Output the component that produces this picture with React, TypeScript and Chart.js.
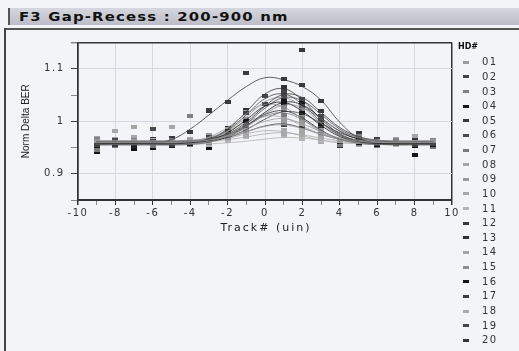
import { useEffect, useRef } from 'react';
import { Chart, registerables } from 'chart.js';

Chart.register(...registerables);

const chartTitle = 'F3 Gap-Recess : 200-900 nm';
const xTitle = 'Track# (uin)';
const yTitle = 'Norm Delta BER';
const legendTitle = 'HD#';

// track offsets (uin)
const trackPositions = [-9, -8, -7, -6, -5, -4, -3, -2, -1, 0, 1, 2, 3, 4, 5, 6, 7, 8, 9];

const headLabels = ['01', '02', '03', '04', '05', '06', '07', '08', '09', '10',
  '11', '12', '13', '14', '15', '16', '17', '18', '19', '20'];

const headColors = ['#9a9a9a', '#444444', '#808080', '#161616', '#3a3a3a', '#4a4a4a', '#7a7a7a',
  '#a6a6a6', '#989898', '#a8a8a8', '#b4b4b4', '#383838', '#303030', '#a4a4a4', '#8c8c8c',
  '#141414', '#3c3c3c', '#aaaaaa', '#444444', '#353535'];

// smoothed profile per head
const fit01 = [.960, .960, .960, .960, .960, .961, .964, .972, .986, 1.000, 1.005, .995, .980, .968, .962, .960, .960, .960, .960];
const fit02 = [.958, .958, .958, .958, .958, .960, .966, .983, 1.012, 1.043, 1.052, 1.032, .999, .974, .963, .959, .958, .958, .958];
const fit03 = [.962, .962, .962, .962, .962, .963, .965, .973, .990, 1.014, 1.031, 1.026, 1.005, .982, .969, .964, .962, .962, .962];
const fit04 = [.957, .957, .957, .957, .957, .959, .964, .978, 1.003, 1.029, 1.036, 1.019, .992, .971, .961, .958, .957, .957, .957];
const fit05 = [.957, .958, .958, .959, .965, .985, 1.012, 1.040, 1.066, 1.083, 1.079, 1.066, 1.040, .998, .968, .958, .957, .957, .957];
const fit06 = [.961, .961, .961, .961, .961, .962, .965, .974, .995, 1.025, 1.045, 1.039, 1.013, .985, .969, .963, .961, .961, .961];
const fit07 = [.956, .956, .956, .956, .956, .957, .961, .972, .990, 1.010, 1.016, 1.003, .982, .966, .959, .957, .956, .956, .956];
const fit08 = [.963, .963, .963, .963, .963, .964, .966, .971, .980, .990, .993, .986, .976, .968, .964, .963, .963, .963, .963];
const fit09 = [.958, .958, .958, .958, .959, .961, .970, .988, 1.014, 1.032, 1.027, 1.004, .979, .965, .960, .958, .958, .958, .958];
const fit10 = [.960, .960, .960, .960, .960, .960, .961, .965, .970, .976, .978, .974, .968, .963, .961, .960, .960, .960, .960];
const fit11 = [.957, .957, .957, .957, .957, .957, .957, .959, .962, .966, .969, .968, .964, .960, .958, .957, .957, .957, .957];
const fit12 = [.962, .962, .962, .962, .962, .963, .966, .976, .998, 1.029, 1.051, 1.045, 1.017, .988, .971, .964, .962, .962, .962];
const fit13 = [.955, .955, .955, .955, .955, .956, .960, .972, .992, 1.013, 1.020, 1.006, .983, .966, .958, .956, .955, .955, .955];
const fit14 = [.961, .961, .961, .961, .961, .963, .969, .981, .998, 1.010, 1.007, .991, .975, .966, .962, .961, .961, .961, .961];
const fit15 = [.958, .958, .958, .958, .958, .960, .965, .981, 1.008, 1.037, 1.045, 1.027, .996, .973, .962, .959, .958, .958, .958];
const fit16 = [.959, .959, .959, .959, .959, .960, .962, .971, .990, 1.017, 1.036, 1.031, 1.006, .981, .966, .961, .959, .959, .959];
const fit17 = [.960, .960, .960, .960, .960, .961, .963, .969, .980, .991, .995, .987, .975, .966, .962, .960, .960, .960, .960];
const fit18 = [.957, .957, .957, .957, .957, .958, .961, .967, .976, .982, .980, .972, .964, .959, .958, .957, .957, .957, .957];
const fit19 = [.961, .961, .961, .961, .961, .961, .963, .970, .984, 1.004, 1.018, 1.014, .996, .978, .967, .962, .961, .961, .961];
const fit20 = [.958, .958, .958, .958, .958, .960, .967, .985, 1.018, 1.052, 1.062, 1.040, 1.004, .976, .963, .959, .958, .958, .958];

// measured points per head (null = not measured)
const pts01 = [.963, .958, .962, .957, .961, .964, .961, .975, .983, null, 1.001, .998, .984, null, .960, .962, .958, .961, .963];
const pts02 = [.955, .961, .956, .962, .955, .958, .970, .980, 1.016, 1.048, 1.057, 1.029, 1.003, null, .966, .957, .960, .955, .957];
const pts03 = [.966, .960, .965, .958, .964, 1.010, .968, .970, .993, null, 1.028, 1.030, 1.001, .963, .972, .962, .965, .960, .964];
const pts04 = [.952, .960, .954, .958, .953, .957, .961, .982, 1.000, null, 1.040, 1.015, .995, .960, .958, .955, .959, .953, .955];
const pts05 = [.960, .955, .961, .957, .968, .980, 1.022, 1.036, 1.092, null, 1.081, 1.070, 1.038, null, .978, .956, .958, .955, .959];
const pts06 = [.958, .964, .959, .985, .960, .965, .962, .977, .991, null, 1.049, 1.042, 1.010, null, .967, .965, .963, .959, .962];
const pts07 = [.945, .953, .958, .952, .957, .955, .958, .969, .994, null, 1.012, 1.006, .980, .955, .957, .953, .957, .954, .951];
const pts08 = [.968, .982, .970, .961, .990, .967, .964, .974, .977, null, .996, .983, .979, null, .966, .961, .966, .972, .962];
const pts09 = [.961, .956, .960, .955, .962, .958, .973, .985, 1.018, null, 1.024, 1.008, .976, null, .962, .956, .960, .957, .956];
const pts10 = [.957, .963, .961, .964, .958, .962, .958, .967, .972, null, .975, .977, .966, null, .963, .958, .962, .961, .958];
const pts11 = [.954, .959, .955, .960, .956, .959, .955, .962, .970, null, .972, .966, .962, .958, .956, .959, .955, .958, .956];
const pts12 = [.965, .959, .963, .967, .960, .966, 1.020, .979, .995, 1.032, 1.054, 1.135, 1.020, null, .974, .966, .960, .964, .960];
const pts13 = [.950, .957, .952, .958, .953, .957, .957, .975, .989, null, 1.023, 1.003, .986, .952, .960, .953, .957, .952, .954];
const pts14 = [.963, .967, .990, .963, .966, .960, .972, .979, 1.001, null, 1.004, .994, .972, null, .964, .959, .963, .962, .965];
const pts15 = [.959, .962, .956, .961, .959, .956, .968, .984, 1.005, null, 1.048, 1.024, .999, null, .960, .961, .956, .960, .958];
const pts16 = [.942, .953, .948, .950, .955, .962, .950, .968, .993, null, 1.033, 1.034, 1.003, .957, .964, .960, .961, .936, .957];
const pts17 = [.962, .957, .963, .958, .962, .959, .966, .966, .983, null, .992, .990, .972, null, .959, .962, .958, .963, .961];
const pts18 = [.960, .955, .958, .954, .958, .956, .964, .964, .974, null, .983, .970, .961, null, .955, .958, .956, .954, .959];
const pts19 = [.964, .960, .962, .959, .963, .964, .960, .973, .981, null, 1.021, 1.011, .993, null, .969, .960, .963, .962, .960];
const pts20 = [.956, .960, .957, .961, .957, .962, .970, .988, 1.021, null, 1.065, 1.043, 1.001, null, .966, .957, .960, .958, .956];

const fitCurves = [fit01, fit02, fit03, fit04, fit05, fit06, fit07, fit08, fit09, fit10,
  fit11, fit12, fit13, fit14, fit15, fit16, fit17, fit18, fit19, fit20];
const measured = [pts01, pts02, pts03, pts04, pts05, pts06, pts07, pts08, pts09, pts10,
  pts11, pts12, pts13, pts14, pts15, pts16, pts17, pts18, pts19, pts20];

const yLabels: Record<number, string> = { 90: '0.9', 100: '1', 110: '1.1' };

function dashMarker(color: string): HTMLCanvasElement {
  const c = document.createElement('canvas');
  c.width = 6;
  c.height = 4;
  const g = c.getContext('2d')!;
  g.fillStyle = color;
  g.fillRect(0, 0, 6, 4);
  return c;
}

const textSpacing = {
  id: 'textSpacing',
  beforeLayout(chart: any) { chart.ctx.letterSpacing = '1.5px'; },
  beforeDraw(chart: any) { chart.ctx.letterSpacing = '1.5px'; },
};

const axisTitles = {
  id: 'axisTitles',
  afterDraw(chart: any) {
    const { ctx, chartArea } = chart;
    ctx.save();
    ctx.fillStyle = '#222';
    ctx.textAlign = 'center';
    ctx.textBaseline = 'middle';
    ctx.letterSpacing = '2px';
    ctx.font = '11px "DejaVu Sans"';
    ctx.fillText(xTitle, (chartArea.left + chartArea.right) / 2 + 1, chartArea.bottom + 28.3);
    ctx.letterSpacing = '0px';
    ctx.font = '10px "Liberation Sans"';
    ctx.translate(20, (chartArea.top + chartArea.bottom) / 2);
    ctx.rotate(-Math.PI / 2);
    ctx.fillText(yTitle, 0, 0);
    ctx.restore();
  },
};

export default function App() {
  const canvasRef = useRef<HTMLCanvasElement>(null);

  useEffect(() => {
    document.body.style.margin = '0';
    const canvas = canvasRef.current;
    if (!canvas) return;

    const datasets: any[] = [];
    headLabels.forEach((lab, i) => {
      datasets.push({
        label: 'HD' + lab + ' fit',
        data: trackPositions.map((x, j) => ({ x, y: fitCurves[i][j] })),
        showLine: true,
        borderColor: headColors[i],
        borderWidth: 0.8,
        pointRadius: 0,
        tension: 0.4,
        fill: false,
      });
    });
    headLabels.forEach((lab, i) => {
      datasets.push({
        label: 'HD' + lab,
        data: trackPositions.map((x, j) => ({ x, y: measured[i][j] })),
        showLine: false,
        pointStyle: dashMarker(headColors[i]),
        pointRadius: 3,
        pointHoverRadius: 3,
      });
    });

    const chart = new Chart(canvas, {
      type: 'scatter',
      data: { datasets },
      plugins: [textSpacing, axisTitles],
      options: {
        animation: false,
        responsive: true,
        maintainAspectRatio: false,
        layout: { padding: { top: 6, right: 14, left: 0, bottom: 0 } },
        plugins: { legend: { display: false }, tooltip: { enabled: false } },
        scales: {
          x: {
            type: 'linear',
            min: -10,
            max: 10,
            afterFit: (s: any) => { s.height = 42; },
            ticks: {
              stepSize: 1,
              autoSkip: false,
              maxRotation: 0,
              padding: 2.5,
              color: '#333',
              font: { family: 'DejaVu Sans', size: 10 },
              callback: (v: any) => (Math.round(v) % 2 === 0 ? String(Math.round(v)) : ''),
            },
            grid: {
              tickLength: 5,
              color: (c: any) => {
                const v = Math.round(c.tick.value);
                if (Math.abs(v) === 10) return '#333';
                return v % 2 === 0 ? '#d6d7e0' : 'rgba(0,0,0,0)';
              },
              lineWidth: (c: any) => (Math.abs(Math.round(c.tick.value)) === 10 ? 1.5 : 1),
              tickColor: (c: any) => (Math.round(c.tick.value) % 2 === 0 ? '#333' : '#888'),
            },
            border: { color: '#333', width: 1.5 },
          },
          y: {
            min: 0.85,
            max: 1.15,
            afterFit: (s: any) => { s.width = 72; },
            ticks: {
              stepSize: 0.05,
              padding: 6.5,
              color: '#333',
              font: { family: 'DejaVu Sans', size: 10 },
              callback: (v: any) => yLabels[Math.round(v * 100)] ?? '',
            },
            grid: {
              tickLength: 7,
              color: (c: any) => {
                const k = Math.round(c.tick.value * 100);
                if (k === 115 || k === 85) return '#333';
                return yLabels[k] ? '#d6d7e0' : 'rgba(0,0,0,0)';
              },
              lineWidth: (c: any) => {
                const k = Math.round(c.tick.value * 100);
                return k === 115 ? 1.5 : 1;
              },
              tickColor: (c: any) => (yLabels[Math.round(c.tick.value * 100)] ? '#444' : '#888'),
            },
            border: { color: '#333', width: 1.5 },
          },
        },
      },
    });
    return () => chart.destroy();
  }, []);

  return (
    <div style={{ position: 'relative', width: 519, height: 351, background: '#f3f4f7', overflow: 'hidden', fontFamily: '"DejaVu Sans", sans-serif' }}>
      <div style={{
        position: 'absolute', left: 8, top: 8, width: 511, height: 17,
        background: 'linear-gradient(#d6d6de, #bdbdc8)', borderLeft: '2px solid #555', boxSizing: 'border-box',
      }}>
        <span style={{
          position: 'absolute', left: 9, top: 1, fontWeight: 'bold', fontSize: 12.5, lineHeight: '15px',
          color: '#111', letterSpacing: '1px', whiteSpace: 'nowrap',
          transform: 'scaleX(1.19)', transformOrigin: 'left center', display: 'inline-block',
        }}>{chartTitle}</span>
      </div>
      <div style={{ position: 'absolute', left: 4, top: 28, width: 515, height: 1.5, background: '#555' }} />
      <div style={{ position: 'absolute', left: 3.5, top: 28, width: 2, height: 323, background: '#444' }} />
      <div style={{ position: 'absolute', left: 6, top: 30, width: 460, height: 212 }}>
        <canvas ref={canvasRef} />
      </div>
      <div style={{ position: 'absolute', left: 458, top: 41, fontWeight: 'bold', fontSize: 8, lineHeight: '12px', color: '#111' }}>
        {legendTitle}
      </div>
      {headLabels.map((lab, i) => (
        <div key={lab} style={{ position: 'absolute', left: 462, top: 56.3 + i * 14.63, height: 12, width: 50 }}>
          <span style={{ position: 'absolute', left: 1, top: 4.5, width: 6, height: 3, background: headColors[i] }} />
          <span style={{ position: 'absolute', left: 20, top: 0, fontSize: 10, lineHeight: '12px', letterSpacing: '1.5px', color: '#333' }}>{lab}</span>
        </div>
      ))}
    </div>
  );
}
